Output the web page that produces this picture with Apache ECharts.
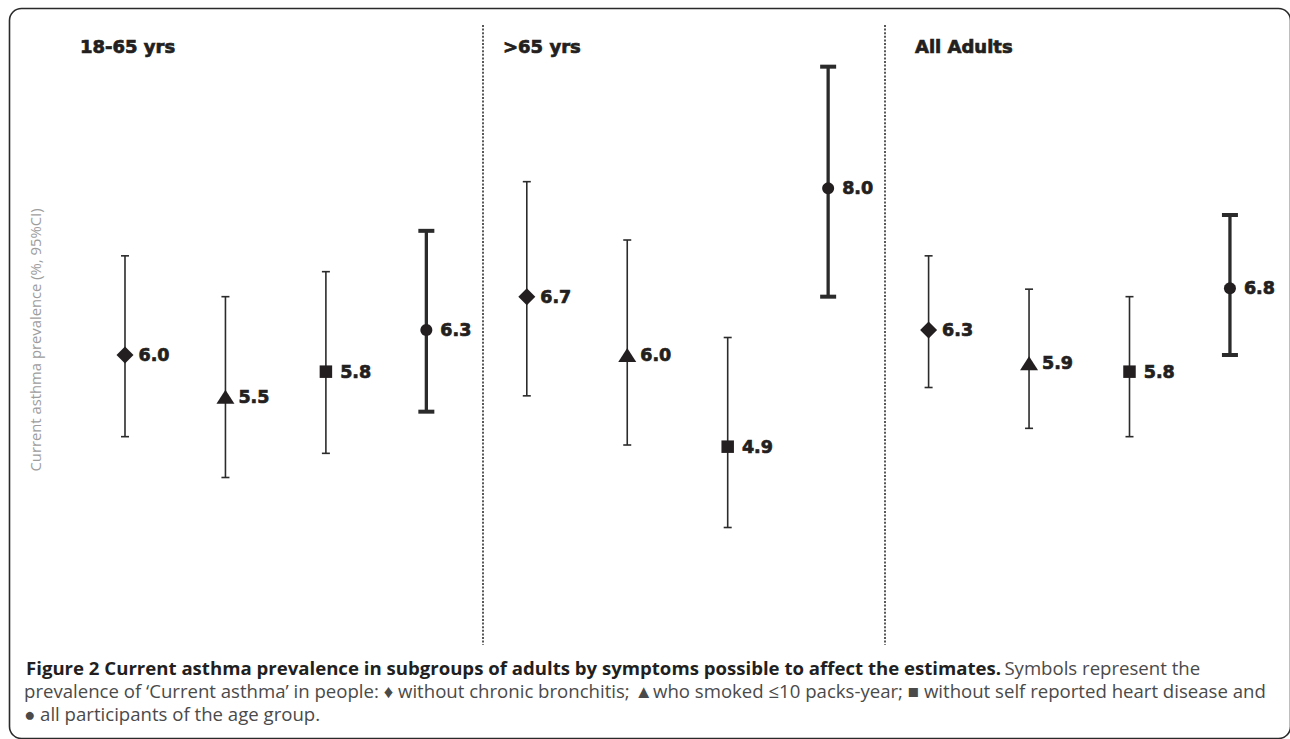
<!DOCTYPE html>
<html>
<head>
<meta charset="utf-8">
<script src="https://cdn.jsdelivr.net/npm/echarts@6/dist/echarts.min.js"></script>
<style>
html,body{margin:0;padding:0;background:#fff;}
#chart{width:1290px;height:739px;}
</style>
</head>
<body>
<div id="chart"></div>
<script>
// ---- data ----
const groups = ['18-65 yrs', '>65 yrs', 'All Adults'];
const subgroups = ['without chronic bronchitis', 'smoked ≤10 packs-year', 'without self reported heart disease', 'all participants'];
const estimate = [
  [6.0, 5.5, 5.8, 6.3],
  [6.7, 6.0, 4.9, 8.0],
  [6.3, 5.9, 5.8, 6.8]
];
const lower = [
  [5.02, 4.53, 4.82, 5.32],
  [5.51, 4.92, 3.93, 6.70],
  [5.61, 5.12, 5.02, 6.00]
];
const upper = [
  [7.19, 6.70, 7.00, 7.49],
  [8.08, 7.38, 6.21, 9.46],
  [7.19, 6.79, 6.70, 7.68]
];
const yAxisTitle = 'Current asthma prevalence (%, 95%CI)';
const captionBold = 'Figure 2 Current asthma prevalence in subgroups of adults by symptoms possible to affect the estimates.';
const captionLines = [
  'Symbols represent the',
  'prevalence of \u2018Current asthma\u2019 in people: \u2666 without chronic bronchitis; \u25B2who smoked \u226410 packs-year; \u25A0 without self reported heart disease and',
  '\u25CF all participants of the age group.'
];

// ---- styles ----
const symbolShapes = ['diamond', 'triangle', 'rect', 'circle'];
const symbolSizes = [[17, 17], [18, 14], [12.5, 12.5], [12, 12]];
const labelDist = [5, 4, 8, 8];
const ink = '#231f20';
const nG = groups.length, nS = subgroups.length;

const chart = echarts.init(document.getElementById('chart'), null, {renderer: 'svg'});

const errData = [];
for (let g = 0; g < nG; g++) {
  for (let s = 0; s < nS; s++) {
    errData.push([g * nS + s + 0.5, lower[g][s], upper[g][s], s]);
  }
}

const series = [];
series.push({
  type: 'custom',
  name: 'CI',
  data: errData,
  silent: true,
  z: 1,
  renderItem: function (params, api) {
    const x = api.value(0), lo = api.value(1), hi = api.value(2);
    const thick = api.value(3) === nS - 1;
    const t = api.coord([x, hi]), b = api.coord([x, lo]);
    const lw = thick ? 3.3 : 1.6;
    const half = thick ? 8 : 4;
    const capW = thick ? 4 : 1.6;
    const col = '#2b2b2b';
    return {
      type: 'group',
      children: [
        {type: 'line', shape: {x1: t[0], y1: t[1], x2: b[0], y2: b[1]}, style: {stroke: col, lineWidth: lw}},
        {type: 'line', shape: {x1: t[0] - half, y1: t[1], x2: t[0] + half, y2: t[1]}, style: {stroke: col, lineWidth: capW}},
        {type: 'line', shape: {x1: b[0] - half, y1: b[1], x2: b[0] + half, y2: b[1]}, style: {stroke: col, lineWidth: capW}}
      ]
    };
  }
});

for (let s = 0; s < nS; s++) {
  const d = [];
  for (let g = 0; g < nG; g++) d.push([g * nS + s + 0.5, estimate[g][s]]);
  series.push({
    type: 'scatter',
    name: subgroups[s],
    data: d,
    symbol: symbolShapes[s],
    symbolSize: symbolSizes[s],
    itemStyle: {color: ink, opacity: 1},
    z: 3,
    label: {
      show: true,
      position: 'right',
      distance: labelDist[s],
      formatter: p => p.value[1].toFixed(1),
      fontFamily: 'DejaVu Sans',
      fontWeight: 'bold',
      fontSize: 17.5,
      color: ink,
      textBorderColor: ink,
      textBorderWidth: 0.7
    }
  });
}

// panel separators (dotted)
series.push({
  type: 'line',
  data: [],
  silent: true,
  markLine: {
    silent: true,
    symbol: ['none', 'none'],
    label: {show: false},
    lineStyle: {color: '#222', width: 1.5, type: [2, 1.6]},
    data: [
      [{coord: [4.06, 9.96]}, {coord: [4.06, 2.52]}],
      [{coord: [8.06, 9.96]}, {coord: [8.06, 2.52]}]
    ]
  }
});

const titleX = [80, 503, 915];
const graphic = [
  {type: 'rect', silent: true, shape: {x: 9.5, y: 8.5, width: 1281, height: 730, r: 12},
   style: {fill: 'none', stroke: '#2a2a2a', lineWidth: 1.6}},
  {type: 'text', x: 35, y: 340, rotation: Math.PI / 2,
   style: {text: yAxisTitle, font: '14.8px "Open Sans"', fill: '#9d9d9d', textAlign: 'center', textVerticalAlign: 'middle'}}
];
groups.forEach((g, i) => {
  graphic.push({type: 'text', x: titleX[i], y: 46,
    style: {text: g, font: 'bold 18px "DejaVu Sans"', fill: ink, stroke: ink, lineWidth: 0.7,
            textAlign: 'left', textVerticalAlign: 'middle'}});
});
const capFont = 18.6;
graphic.push({type: 'text', x: 26, y: 667,
  style: {
    text: '{b|' + captionBold + '} {r|' + captionLines[0] + '}',
    textVerticalAlign: 'middle',
    rich: {
      b: {font: 'bold ' + capFont + 'px "Open Sans"', fill: ink},
      r: {font: capFont + 'px "Open Sans"', fill: '#4a4a4a'}
    }
  }});
graphic.push({type: 'text', x: 24, y: 690,
  style: {text: captionLines[1], font: capFont + 'px "Open Sans"', fill: '#4a4a4a', textVerticalAlign: 'middle'}});
graphic.push({type: 'text', x: 24, y: 713,
  style: {text: captionLines[2], font: capFont + 'px "Open Sans"', fill: '#4a4a4a', textVerticalAlign: 'middle'}});

chart.setOption({
  animation: false,
  backgroundColor: '#fff',
  grid: {left: 74.77, width: 1205.4, top: 21.67, height: 666.67},
  xAxis: {type: 'value', min: 0, max: 12, show: false},
  yAxis: {type: 'value', min: 2, max: 10, show: false},
  graphic: graphic,
  series: series
});
</script>
</body>
</html>
